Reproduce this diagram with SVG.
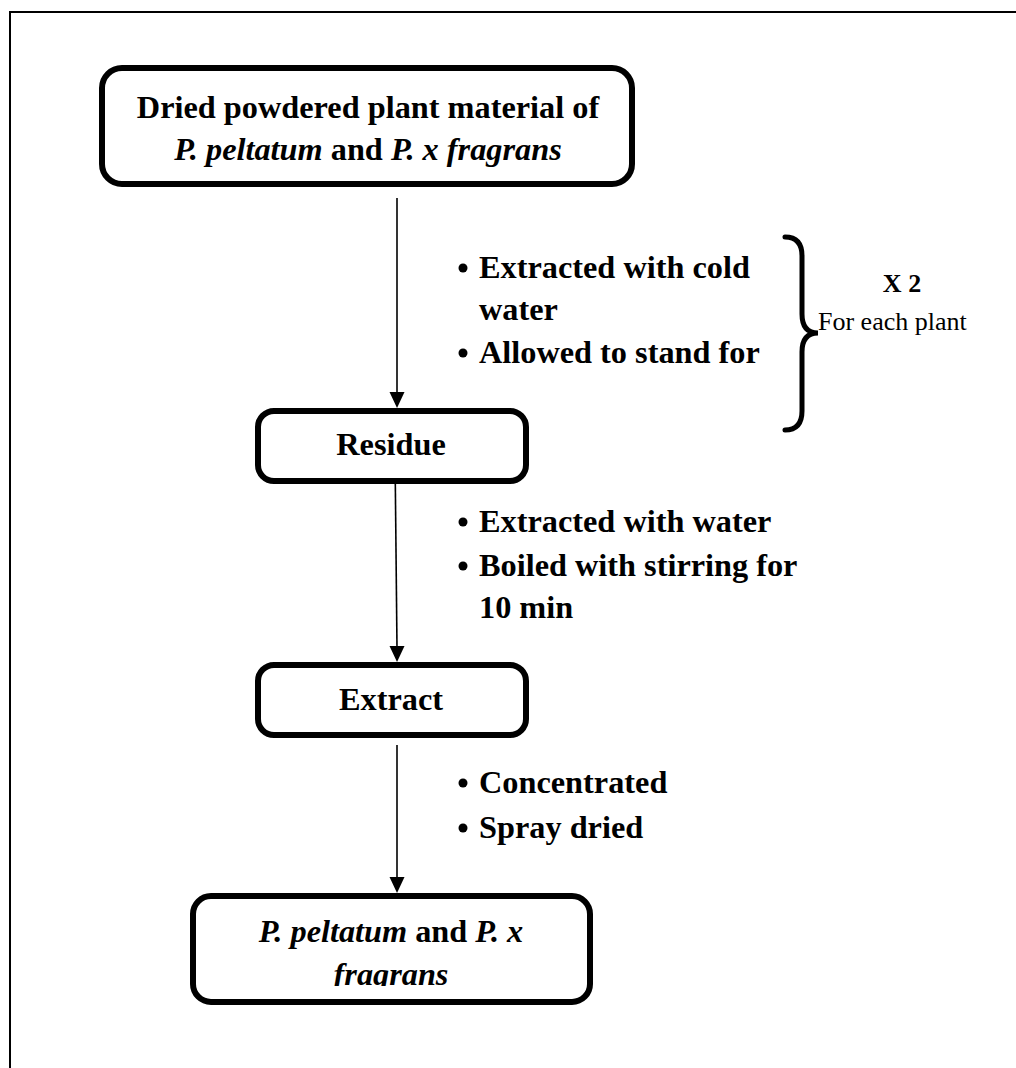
<svg xmlns="http://www.w3.org/2000/svg" width="1016" height="1068" viewBox="0 0 1016 1068">
<style>
.box{fill:#fff;stroke:#000;stroke-width:6}
.t{font-family:"Liberation Serif","Times New Roman",serif;font-weight:bold;font-size:32.3px;fill:#000}
.c{text-anchor:middle}
.i{font-style:italic}
.conn{stroke:#000;stroke-width:1.6;fill:none}
.frame{stroke:#000;stroke-width:2;fill:none}
.r{font-family:"Liberation Serif","Times New Roman",serif;font-size:26px;fill:#000}
</style>
<defs>
<clipPath id="clipFinal"><rect x="193" y="896" width="397" height="90"/></clipPath>
</defs>
<g id="frame">
<path class="frame" d="M10,1068 L10,12 L1016,12"/>
</g>
<g id="connectors">
<line class="conn" x1="397" y1="198" x2="397" y2="394"/>
<path d="M389.5,392 L404.5,392 L397,408 Z"/>
<line class="conn" x1="395" y1="452" x2="397" y2="648"/>
<path d="M389.5,646 L404.5,646 L397,662 Z"/>
<line class="conn" x1="397" y1="745" x2="397" y2="879"/>
<path d="M389.5,877 L404.5,877 L397,893 Z"/>
</g>
<g id="node-start">
<rect class="box" x="102" y="68" width="530" height="116" rx="20"/>
<text class="t c" x="368" y="118">Dried powdered plant material of</text>
<text class="t c" x="368" y="160"><tspan class="i">P. peltatum</tspan> and <tspan class="i">P. x fragrans</tspan></text>
</g>
<g id="node-residue">
<rect class="box" x="258" y="411" width="268" height="70" rx="16"/>
<text class="t c" x="391" y="455">Residue</text>
</g>
<g id="node-extract">
<rect class="box" x="258" y="665" width="268" height="70" rx="16"/>
<text class="t c" x="391" y="710">Extract</text>
</g>
<g id="node-final">
<rect class="box" x="193" y="896" width="397" height="106" rx="18"/>
<g clip-path="url(#clipFinal)">
<text class="t c" x="391" y="942"><tspan class="i">P. peltatum</tspan> and <tspan class="i">P. x</tspan></text>
<text class="t c i" x="391" y="985">fragrans</text>
</g>
</g>
<g id="steps-1">
<circle cx="463" cy="268" r="4.5"/>
<text class="t" x="479" y="278">Extracted with cold</text>
<text class="t" x="479" y="320">water</text>
<circle cx="463" cy="353" r="4.5"/>
<text class="t" x="479" y="363">Allowed to stand for</text>
</g>
<g id="steps-2">
<circle cx="463" cy="522" r="4.5"/>
<text class="t" x="479" y="532">Extracted with water</text>
<circle cx="463" cy="566" r="4.5"/>
<text class="t" x="479" y="576">Boiled with stirring for</text>
<text class="t" x="479" y="618">10 min</text>
</g>
<g id="steps-3">
<circle cx="463" cy="783" r="4.5"/>
<text class="t" x="479" y="793">Concentrated</text>
<circle cx="463" cy="828" r="4.5"/>
<text class="t" x="479" y="838">Spray dried</text>
</g>
<g id="brace">
<path d="M785,237 Q802,237 802,256 L802,314 Q802,333 818,333 Q802,333 802,352 L802,411 Q802,430 785,430" fill="none" stroke="#000" stroke-width="5" stroke-linecap="round"/>
<text class="r c" x="902" y="292" font-weight="bold">X 2</text>
<text class="r" x="818" y="330">For each plant</text>
</g>
</svg>
